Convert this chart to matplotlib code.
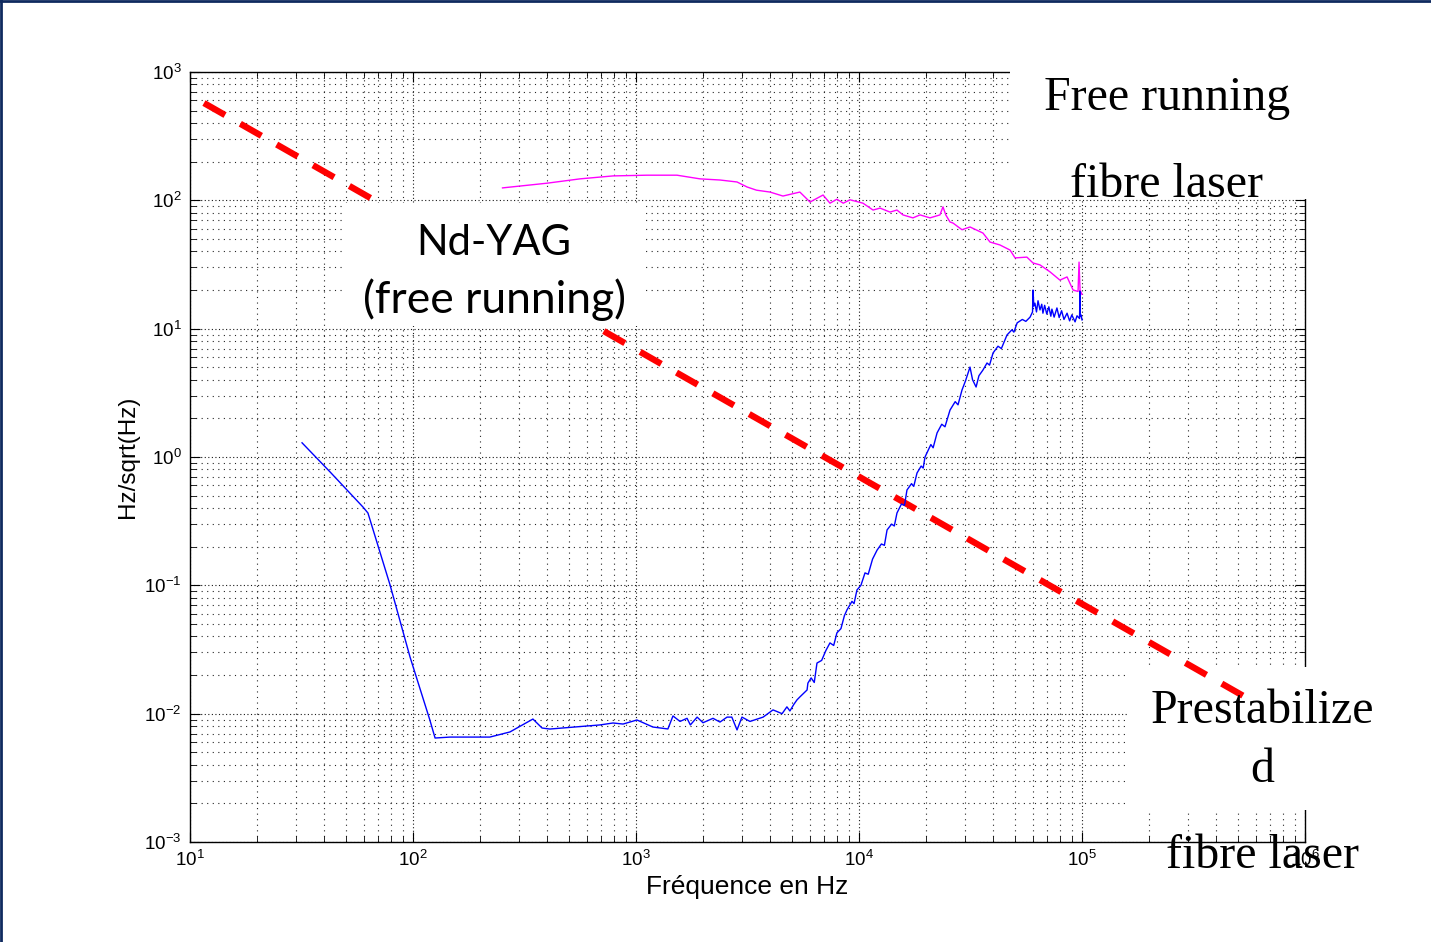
import numpy as np
import matplotlib
matplotlib.use("Agg")
import matplotlib.pyplot as plt
from matplotlib.patches import Rectangle
from matplotlib.lines import Line2D
from matplotlib.ticker import LogLocator, NullFormatter

plt.rcParams['font.family'] = ['Liberation Sans', 'DejaVu Sans']
plt.rcParams['mathtext.fontset'] = 'custom'
plt.rcParams['mathtext.rm'] = 'Liberation Sans'
plt.rcParams['axes.unicode_minus'] = False

# stabilised fibre laser (blue)
blue_freq = [31.8, 42.5, 59.7, 62.8, 78.9, 97, 119, 125.6, 146.6, 221, 272, 345, 379, 411,
             690, 789, 875, 1010, 1190, 1390, 1465, 1575, 1694, 1753, 1880, 1997, 2215, 2380,
             2560, 2690, 2838, 2986, 3245, 3715, 4115, 4520, 4750, 4900, 5100, 5270, 5430, 5850,
             5900, 6100, 6300, 6480, 6800, 7100, 7410, 7700, 7960, 8300, 8600, 8830, 9300, 9500,
             9790, 10200, 10640, 11000, 11500, 12050, 12600, 13000, 13360, 14000, 14400, 14800,
             15500, 16000, 16410, 17200, 17600, 18200, 19000, 19400, 19770, 21000, 21500, 22390,
             23500, 24300, 25590, 27000, 27800, 28970, 30000, 31460, 32300, 33500, 34500, 35960,
             37500, 38500, 39900, 42000, 43500, 46100, 48500, 49500, 51200, 54000, 56000, 58500,
             60000, 60300, 60800, 61500, 62500, 63500, 64800, 66000, 66800, 68000, 69500, 71000,
             72500, 73300, 75000, 77200, 79000, 81000, 83000, 85700, 88000, 90000, 93100, 95000,
             97500, 97900, 98300, 99000, 100000]
blue_val = [1.29, 0.764, 0.407, 0.366, 0.1007, 0.0276, 0.00893, 0.00646, 0.00657, 0.00657,
            0.0072, 0.00908, 0.00773, 0.00759,
            0.00817, 0.00846, 0.0083, 0.00893, 0.00787, 0.0076, 0.0096, 0.0087, 0.0092, 0.00817,
            0.0094, 0.0085, 0.0092, 0.0086, 0.0094, 0.0094, 0.00747, 0.0094, 0.0087, 0.0094,
            0.0107, 0.0100, 0.0113, 0.0105, 0.0118, 0.0128, 0.0135, 0.0153,
            0.0173, 0.0190, 0.0175, 0.0248, 0.0260, 0.031, 0.0356, 0.034, 0.0426, 0.046, 0.058,
            0.0643, 0.075, 0.072,
            0.092, 0.10, 0.125, 0.122, 0.16, 0.188, 0.21, 0.205, 0.27, 0.30, 0.29, 0.366,
            0.43, 0.42, 0.553, 0.62, 0.59, 0.75, 0.85, 0.82, 1.0, 1.25, 1.18, 1.54,
            1.8, 1.72, 2.32, 2.7, 2.55, 3.33, 3.9, 5.02, 4.0, 3.51, 4.3, 4.76,
            5.4, 5.2, 6.46, 7.3, 7.0, 8.93, 9.8, 9.4, 11.1, 11.8, 11.4, 12.3,
            13.5, 20.0, 15.0, 15.8, 13.5, 16.5, 14.0, 15.5, 13.2, 15.2, 13.0, 14.8,
            12.5, 14.2, 12.3, 14.5, 12.2, 13.8, 11.8, 13.2, 11.5, 12.8, 11.3, 12.6,
            12.0, 19.5, 12.5, 12.8, 11.7]

# free running fibre laser (magenta)
mag_freq = [252, 399, 561, 789, 1119, 1527, 1936, 2380, 2838, 3150, 3470, 3990, 4560, 5430,
            6030, 6900, 7410, 7960, 8500, 9110, 10420, 11560, 12430, 13770, 14800, 15740,
            17450, 18780, 20810, 23070, 23800, 24500, 25590, 26400, 28970, 31460, 35960,
            38680, 42850, 47550, 50100, 56600, 60300, 64800, 71900, 79600, 85700, 91200,
            96000, 97000, 98000, 100000]
mag_val = [125, 136, 147, 155, 157, 157, 147, 144, 139, 127, 120, 116, 108, 116,
           97, 110, 95, 102, 95, 101, 95, 84, 87, 81, 84, 77,
           73, 77, 73, 77, 89, 77, 67.8, 66.5, 59, 62, 55.6,
           47.3, 44.9, 41, 35.6, 36.1, 32.5, 31.4, 27.7, 23.9, 25.3, 20,
           19.5, 33, 20, 18.5]

# Nd-YAG free running (red dashed)
red_freq = [11.55, 549500]
red_val = [573, 0.01324]

W, H = 1431, 942
fig = plt.figure(figsize=(W / 100, H / 100), dpi=100)
ax = fig.add_axes([190 / W, 1 - 842 / H, (1305 - 190) / W, (842 - 72) / H])


def fx(px):
    return px / W


def fy(py):
    return 1 - py / H


ax.set_xscale('log')
ax.set_yscale('log')
ax.set_xlim(10, 1e6)
ax.set_ylim(1e-3, 1e3)

for a in (ax.xaxis, ax.yaxis):
    a.set_major_locator(LogLocator(base=10, numticks=20))
    a.set_minor_locator(LogLocator(base=10, subs=np.arange(2, 10), numticks=100))
    a.set_minor_formatter(NullFormatter())

ax.tick_params(which='both', direction='in', top=True, right=True, colors='black')
ax.tick_params(which='major', length=7.5, width=0.8, labelsize=13.5, pad=6)
ax.tick_params(which='minor', length=4, width=0.6)
ax.grid(True, which='major', linestyle=(0, (1, 2.2)), color='0.1', linewidth=0.8)
ax.grid(True, which='minor', linestyle=(0, (1, 4)), color='0.15', linewidth=0.8)
for s in ax.spines.values():
    s.set_linewidth(1.0)

ax.plot(mag_freq, mag_val, color='#ff00ff', linewidth=1.0, zorder=5)
ax.plot(blue_freq, blue_val, color='#0000ff', linewidth=1.0, zorder=5)
ax.plot(red_freq, red_val, color='#ff0000', linewidth=4.6, dashes=(3.8, 2.75),
        solid_capstyle='butt', dash_capstyle='butt', zorder=3.5)

ax.set_xlabel('Fréquence en Hz', fontsize=19)
ax.set_ylabel('Hz/sqrt(Hz)', fontsize=17.5)
ax.xaxis.label.set_va('center')
ax.yaxis.label.set_va('center')
ax.xaxis.set_label_coords(0.5, (842 - 887) / 770)
ax.yaxis.set_label_coords((128 - 190) / 1115, 0.5)

# white text boxes of the slide
boxes = [
    (1010, 0, 1335, 199, 3),      # free running fibre laser
    (345, 203, 642, 326, 4),      # Nd-YAG
    (1128, 667, 1400, 810, 3),    # prestabilized
]
for x0, y0, x1, y1, z in boxes:
    ax.add_patch(Rectangle((fx(x0), fy(y1)), (x1 - x0) / W, (y1 - y0) / H,
                           transform=fig.transFigure, facecolor='white', edgecolor='none',
                           clip_on=False, zorder=z))

serif = dict(family='Liberation Serif', fontsize=34.5, ha='center', va='baseline',
             transform=fig.transFigure, zorder=6)
ax.text(fx(1167), fy(110), 'Free running', **serif)
ax.text(fx(1167), fy(197), 'fibre laser', **serif)
ax.text(fx(1262), fy(723), 'Prestabilize', **serif)
ax.text(fx(1262), fy(782), 'd', **serif)
ax.text(fx(1262), fy(868), 'fibre laser', **serif)

sans = dict(family='Lato', ha='center', va='baseline',
            transform=fig.transFigure, zorder=6)
ax.text(fx(494), fy(255), 'Nd-YAG', fontsize=30, **sans)
ax.text(fx(495), fy(313), '(free running)', fontsize=32, **sans)

# slide border
fig.add_artist(Line2D([0, 1], [1 - 1 / H, 1 - 1 / H], transform=fig.transFigure,
                      color='#0f2a5f', linewidth=2))
fig.add_artist(Line2D([1 / W, 1 / W], [0, 1], transform=fig.transFigure,
                      color='#0f2a5f', linewidth=2))

fig.savefig('out.png', dpi=100)
